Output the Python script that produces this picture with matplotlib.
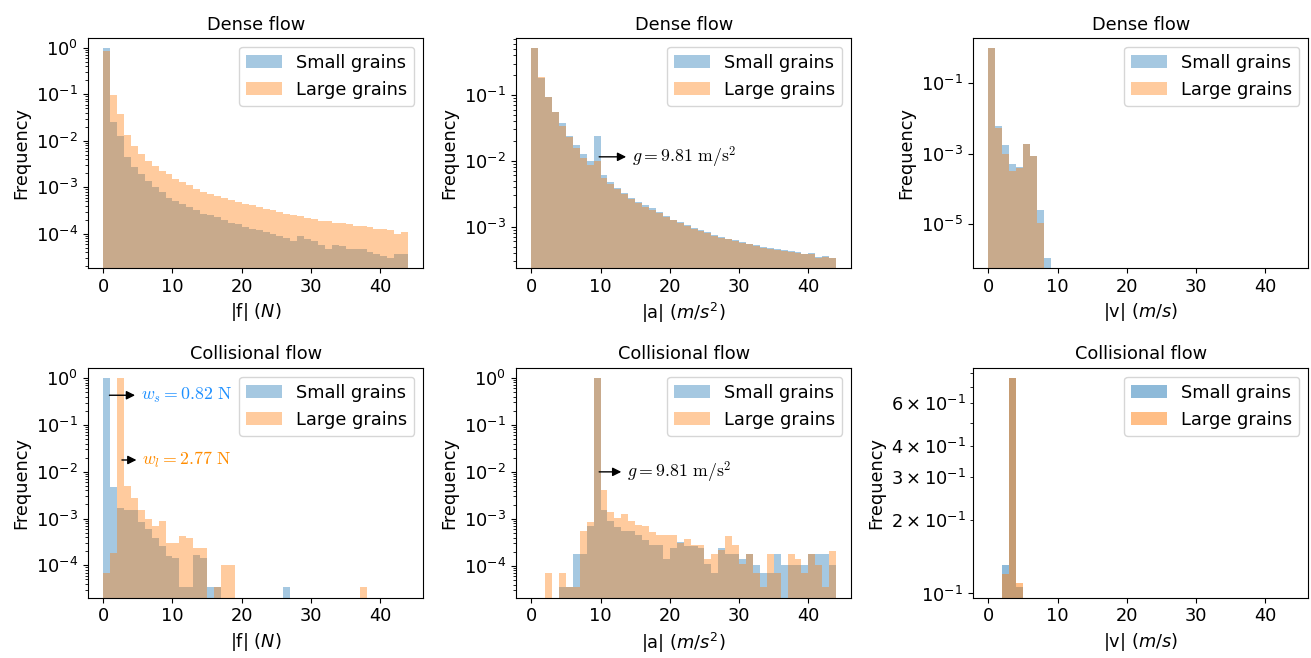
import numpy as np
import matplotlib.pyplot as plt

plt.rcParams['font.size'] = 12.8
plt.rcParams['axes.titlesize'] = 12.8

bin_edges = np.arange(0, 45)

# Dense flow, |f|
dense_f_small = [0.97, 0.025, 0.0128, 0.0044, 0.0027, 0.0019, 0.0014, 0.0010, 7.8e-4, 5.9e-4,
                 5.0e-4, 4.4e-4, 3.7e-4, 3.3e-4, 2.7e-4, 2.6e-4, 2.3e-4, 2.0e-4, 1.7e-4, 1.6e-4,
                 1.4e-4, 1.3e-4, 1.2e-4, 1.1e-4, 1.0e-4, 9.0e-5, 8.1e-5, 6.9e-5, 9.0e-5, 7.8e-5,
                 6.9e-5, 5.9e-5, 4.7e-5, 5.9e-5, 5.5e-5, 4.7e-5, 4.7e-5, 4.7e-5, 4.1e-5, 3.7e-5,
                 3.3e-5, 3.1e-5, 3.7e-5, 3.7e-5]
dense_f_large = [0.85, 0.095, 0.037, 0.0132, 0.0077, 0.0052, 0.0037, 0.0029, 0.0023, 0.0019,
                 1.5e-3, 1.3e-3, 1.1e-3, 9.2e-4, 7.8e-4, 7.2e-4, 6.6e-4, 6.0e-4, 5.4e-4, 4.8e-4,
                 4.4e-4, 4.1e-4, 3.7e-4, 3.4e-4, 3.2e-4, 2.9e-4, 2.7e-4, 2.6e-4, 2.4e-4, 2.2e-4,
                 2.1e-4, 1.9e-4, 1.9e-4, 1.7e-4, 1.7e-4, 1.6e-4, 1.5e-4, 1.45e-4, 1.4e-4, 1.3e-4,
                 1.3e-4, 1.2e-4, 1.0e-4, 1.1e-4]

# Dense flow, |a|
dense_a_small = [0.51, 0.18, 0.094, 0.055, 0.037, 0.024, 0.0174, 0.0129, 0.0099, 0.024,
                 0.006, 0.0047, 0.0039, 0.0033, 0.0027, 0.0024, 0.0021, 0.0019, 0.00166, 0.00144,
                 0.00128, 0.00117, 0.00107, 9.5e-4, 9.0e-4, 8.3e-4, 7.6e-4, 7.0e-4, 6.4e-4, 6.2e-4,
                 5.8e-4, 5.5e-4, 5.2e-4, 4.9e-4, 4.7e-4, 4.6e-4, 4.4e-4, 4.2e-4, 4.1e-4, 3.9e-4,
                 4.0e-4, 3.5e-4, 3.6e-4, 3.4e-4]
dense_a_large = [0.51, 0.185, 0.094, 0.055, 0.034, 0.023, 0.0155, 0.011, 0.0086, 0.0101,
                 0.0055, 0.0045, 0.0037, 0.0031, 0.0026, 0.0023, 0.0020, 0.0018, 0.0016, 0.0014,
                 0.00127, 0.00113, 0.00104, 9.2e-4, 8.6e-4, 8.0e-4, 7.3e-4, 6.8e-4, 6.5e-4, 6.1e-4,
                 5.7e-4, 5.4e-4, 5.1e-4, 4.8e-4, 4.6e-4, 4.5e-4, 4.3e-4, 4.1e-4, 4.0e-4, 3.9e-4,
                 3.9e-4, 3.4e-4, 3.5e-4, 3.4e-4]

# Dense flow, |v|
dense_v_small = [0.98, 6.0e-3, 1.7e-3, 4.9e-4, 4.1e-4, 1.9e-3, 8.7e-4, 2.5e-5, 1.1e-6, 0,
                 0, 0, 0, 0, 0, 0, 0, 0, 0, 0,
                 0, 0, 0, 0, 0, 0, 0, 0, 0, 0,
                 0, 0, 0, 0, 0, 0, 0, 0, 0, 0,
                 0, 0, 0, 0]
dense_v_large = [0.98, 5.2e-3, 1.0e-3, 3.1e-4, 4.0e-4, 1.9e-3, 8.5e-4, 1.07e-5, 0, 0,
                 0, 0, 0, 0, 0, 0, 0, 0, 0, 0,
                 0, 0, 0, 0, 0, 0, 0, 0, 0, 0,
                 0, 0, 0, 0, 0, 0, 0, 0, 0, 0,
                 0, 0, 0, 0]

# Collisional flow, |f|
coll_f_small = [1.0, 4.6e-3, 1.66e-3, 1.5e-3, 1.5e-3, 8.5e-4, 6.0e-4, 3.8e-4, 2.6e-4, 1.6e-4,
                1.4e-4, 3.4e-5, 3.4e-5, 1.7e-4, 1.4e-4, 3.4e-5, 3.4e-5, 0, 0, 0,
                0, 0, 0, 0, 0, 0, 3.4e-5, 0, 0, 0,
                0, 0, 0, 0, 0, 0, 0, 0, 0, 0,
                0, 0, 0, 0]
coll_f_large = [7e-5, 1.8e-4, 1.0, 5.0e-3, 2.7e-3, 1.55e-3, 1.0e-3, 6.9e-4, 8.8e-4, 3.0e-4,
                3.0e-4, 4.2e-4, 3.9e-4, 2.4e-4, 2.4e-4, 0, 3.4e-5, 1.0e-4, 1.0e-4, 0,
                0, 0, 0, 0, 0, 0, 0, 0, 0, 0,
                0, 0, 0, 0, 0, 0, 0, 3.4e-5, 0, 0,
                0, 0, 0, 0]

# Collisional flow, |a|
coll_a_small = [0, 0, 0, 0, 3.5e-5, 3.5e-5, 1.8e-4, 1.8e-4, 7.1e-4, 0.99,
                1.55e-3, 9.2e-4, 6.6e-4, 5.4e-4, 5.4e-4, 4.6e-4, 3.5e-4, 2.8e-4, 2.8e-4, 1.4e-4,
                2.4e-4, 3.2e-4, 2.7e-4, 2.7e-4, 2.4e-4, 1.07e-4, 7.2e-5, 2.4e-4, 1.8e-4, 1.8e-4,
                1.4e-4, 1.8e-4, 1.05e-4, 7.0e-5, 7.2e-5, 1.8e-4, 1.05e-4, 1.05e-4, 1.05e-4, 1.05e-4,
                1.8e-4, 1.8e-4, 1.8e-4, 1.05e-4]
coll_a_large = [0, 0, 7e-5, 0, 7e-5, 3.5e-5, 3.5e-5, 5.6e-4, 8.4e-4, 0.99,
                4.1e-3, 1.4e-3, 1.03e-3, 1.25e-3, 9.2e-4, 7.4e-4, 7.1e-4, 5.2e-4, 4.6e-4, 4.6e-4,
                4.5e-4, 3.0e-4, 3.8e-4, 2.8e-4, 2.8e-4, 1.4e-4, 1.8e-4, 2.2e-4, 4.3e-4, 2.8e-4,
                1.07e-4, 1.8e-4, 7.2e-5, 3.6e-5, 1.8e-4, 7.2e-5, 0, 1.8e-4, 1.4e-4, 7.2e-5,
                1.8e-4, 1.05e-4, 3.5e-5, 2.1e-4]

# Collisional flow, |v|
coll_v_small = [0, 0, 0.131, 0.76, 0.106, 0, 0, 0, 0, 0,
                0, 0, 0, 0, 0, 0, 0, 0, 0, 0,
                0, 0, 0, 0, 0, 0, 0, 0, 0, 0,
                0, 0, 0, 0, 0, 0, 0, 0, 0, 0,
                0, 0, 0, 0]
coll_v_large = [0, 0, 0.12, 0.76, 0.11, 0, 0, 0, 0, 0,
                0, 0, 0, 0, 0, 0, 0, 0, 0, 0,
                0, 0, 0, 0, 0, 0, 0, 0, 0, 0,
                0, 0, 0, 0, 0, 0, 0, 0, 0, 0,
                0, 0, 0, 0]


def draw(ax, small, large, title, xlabel, alpha=0.4):
    centers = bin_edges[:-1] + 0.5
    ax.hist(centers, bins=bin_edges, weights=small, alpha=alpha, log=True, label='Small grains')
    ax.hist(centers, bins=bin_edges, weights=large, alpha=alpha, log=True, label='Large grains')
    ax.set_title(title)
    ax.set_xlabel(xlabel)
    ax.set_ylabel('Frequency')
    ax.legend(loc='upper right')


def note(ax, text, xy, xytext, color='black'):
    ax.annotate(text, xy=xy, xytext=xytext, va='center', ha='left', color=color,
                math_fontfamily='cm', fontsize=12.8,
                arrowprops=dict(arrowstyle='<|-', color='black', lw=1))


fig, axs = plt.subplots(2, 3, figsize=(13.11, 6.58), dpi=100)

draw(axs[0, 0], dense_f_small, dense_f_large, 'Dense flow', '|f| ($N$)')
draw(axs[0, 1], dense_a_small, dense_a_large, 'Dense flow', '|a| ($m/s^2$)')
draw(axs[0, 2], dense_v_small, dense_v_large, 'Dense flow', '|v| ($m/s$)')
draw(axs[1, 0], coll_f_small, coll_f_large, 'Collisional flow', '|f| ($N$)')
draw(axs[1, 1], coll_a_small, coll_a_large, 'Collisional flow', '|a| ($m/s^2$)')
draw(axs[1, 2], coll_v_small, coll_v_large, 'Collisional flow', '|v| ($m/s$)', alpha=0.5)

note(axs[0, 1], r'$g = 9.81\ \mathrm{m/s^2}$', (9.4, 0.0115), (14.5, 0.0115))
note(axs[1, 1], r'$g = 9.81\ \mathrm{m/s^2}$', (9.4, 0.01), (13.8, 0.01))
note(axs[1, 0], r'$w_s = 0.82\ \mathrm{N}$', (0.5, 0.43), (5.4, 0.43), color='dodgerblue')
note(axs[1, 0], r'$w_l = 2.77\ \mathrm{N}$', (2.3, 0.0178), (5.6, 0.0178), color='darkorange')

# axes placement (figure fractions)
lefts = [0.0671, 0.3936, 0.7422]
bottoms = [0.5927, 0.0916]
for r in range(2):
    for c in range(3):
        axs[r, c].set_position([lefts[c], bottoms[r], 0.2558, 0.3497])

plt.savefig('out.png', dpi=100)
plt.close('all')
